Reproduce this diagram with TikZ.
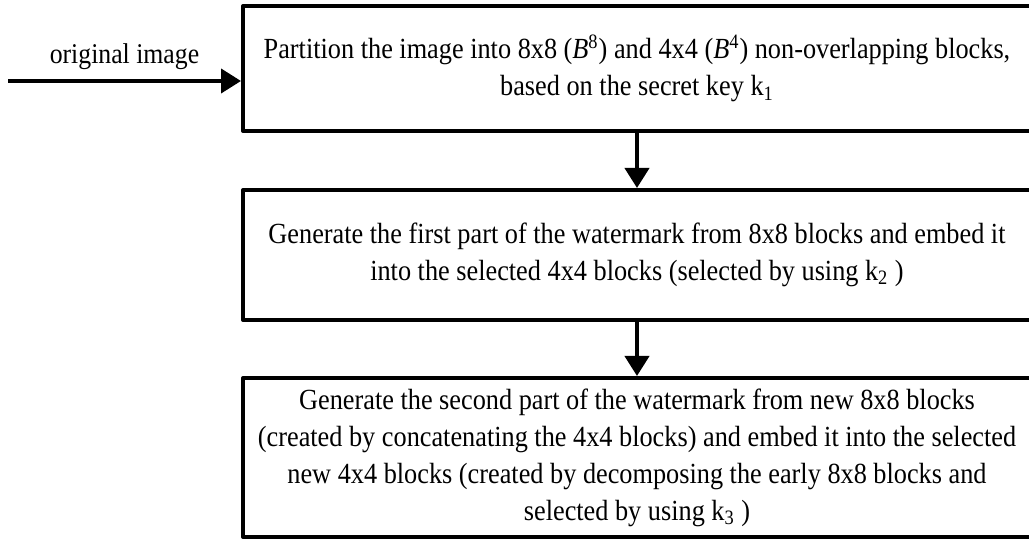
\documentclass[tikz,border=0pt]{standalone}
\usepackage{fontspec}
\setmainfont{Liberation Serif}[FakeStretch=0.9]
\usetikzlibrary{arrows.meta}

\tikzset{
	stage/.style={draw, line width=2pt, minimum width=394pt, align=center,
		font=\fontsize{14.6}{18.5}\selectfont},
	flow/.style={line width=2pt, -{Triangle[width=12pt,length=10pt]}}
}

\begin{document}
\begin{tikzpicture}[x=0.5pt, y=-0.5pt, line join=round]

			% Khung ảnh theo kích thước gốc
			\useasboundingbox (0,0) rectangle (1029,539);
			% Các khối xử lý
			\node[stage, minimum height=62.5pt] (part) at (637,68.5)
				{Partition the image into 8x8 (\textit{B}\textsuperscript{8}) and 4x4 (\textit{B}\textsuperscript{4}) non-overlapping blocks,\\
				based on the secret key k\textsubscript{1}};
			\node[stage, minimum height=65pt] (first) at (637,255)
				{Generate the first part of the watermark from 8x8 blocks and embed it\\
				into the selected 4x4 blocks (selected by using k\textsubscript{2} )};
			\node[stage, minimum height=79.5pt] (second) at (637,457.5)
				{Generate the second part of the watermark from new 8x8 blocks\\
				(created by concatenating the 4x4 blocks) and embed it into the selected\\
				new 4x4 blocks (created by decomposing the early 8x8 blocks and\\
				selected by using k\textsubscript{3} )};
			% Mũi tên đầu vào
			\coordinate (in) at (8,81);
			\draw[flow] (in) -- (in -| part.west) node[pos=0.5, above=1.5pt, font=\fontsize{14.3}{15}\selectfont] (orig) {original image};
			% Mũi tên nối các khối
			\draw[flow] (part) -- (first);
			\draw[flow] (first) -- (second);

		\end{tikzpicture}
\end{document}
